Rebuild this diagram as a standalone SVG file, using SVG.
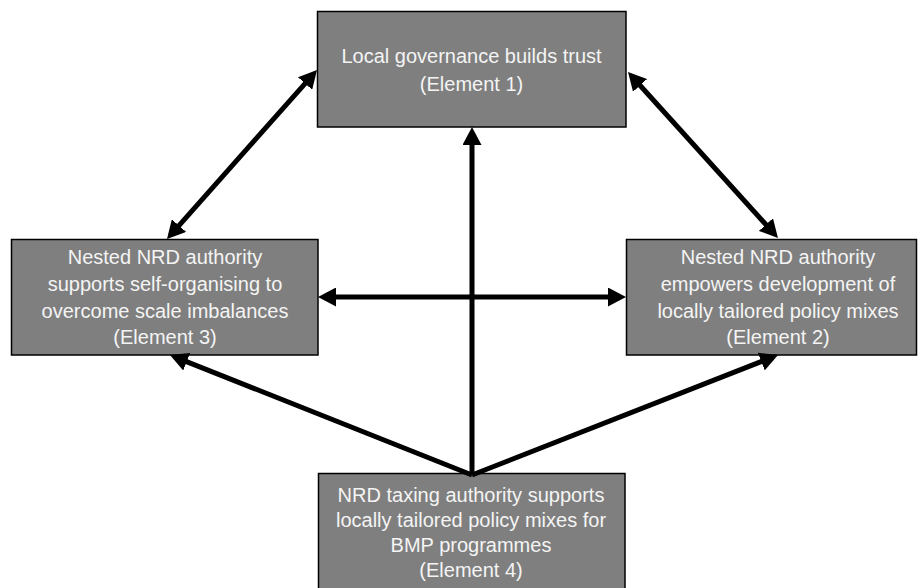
<svg xmlns="http://www.w3.org/2000/svg" width="918" height="588" viewBox="0 0 918 588">
  <defs>
    <style>
      .box { fill: #7f7f7f; stroke: #000; stroke-width: 1.5; }
      .lbl { font-family: "Liberation Sans", Arial, sans-serif; font-size: 20px; fill: #f4f4f4; text-anchor: middle; }
      .conn { stroke: #000; stroke-width: 5; fill: none; }
    </style>
    <marker id="ah" markerUnits="userSpaceOnUse" markerWidth="18" markerHeight="19" refX="7" refY="9.5" orient="auto-start-reverse" viewBox="0 0 18 19">
      <path d="M0,0 L18,9.5 L0,19 z" fill="#000"/>
    </marker>
  </defs>
  <rect width="918" height="588" fill="#fff"/>

  <g id="node-element1">
    <rect class="box" x="317.5" y="11.5" width="308.5" height="115.5"/>
    <text class="lbl" x="471.5" y="63">Local governance builds trust</text>
    <text class="lbl" x="471.5" y="90.5">(Element 1)</text>
  </g>

  <g id="node-element3">
    <rect class="box" x="11.5" y="239.5" width="306.5" height="115.5"/>
    <text class="lbl" x="165" y="263.5">Nested NRD authority</text>
    <text class="lbl" x="165" y="290.5">supports self-organising to</text>
    <text class="lbl" x="165" y="317.5">overcome scale imbalances</text>
    <text class="lbl" x="165" y="344">(Element 3)</text>
  </g>

  <g id="node-element2">
    <rect class="box" x="626.5" y="239.5" width="290" height="115.5"/>
    <text class="lbl" x="778" y="263.5">Nested NRD authority</text>
    <text class="lbl" x="778" y="290.5">empowers development of</text>
    <text class="lbl" x="778" y="317.5">locally tailored policy mixes</text>
    <text class="lbl" x="778" y="344">(Element 2)</text>
  </g>

  <g id="node-element4">
    <rect class="box" x="318.5" y="473.5" width="306.5" height="130"/>
    <text class="lbl" x="471" y="501.5" font-size="20.5">NRD taxing authority supports</text>
    <text class="lbl" x="471" y="526.5" font-size="20.5">locally tailored policy mixes for</text>
    <text class="lbl" x="471" y="551.5" font-size="20.5">BMP programmes</text>
    <text class="lbl" x="471" y="576.5" font-size="20.5">(Element 4)</text>
  </g>

  <g id="connectors">
    <line class="conn" x1="472" y1="475" x2="472" y2="138" marker-end="url(#ah)"/>
    <line class="conn" x1="174.3" y1="230.8" x2="309.7" y2="78.3" marker-start="url(#ah)" marker-end="url(#ah)"/>
    <line class="conn" x1="635.4" y1="80.2" x2="770.6" y2="229.8" marker-start="url(#ah)" marker-end="url(#ah)"/>
    <line class="conn" x1="329" y1="297" x2="615" y2="297" marker-start="url(#ah)" marker-end="url(#ah)"/>
    <line class="conn" x1="472" y1="475" x2="180.2" y2="359.1" marker-end="url(#ah)"/>
    <line class="conn" x1="472" y1="475" x2="767.8" y2="359" marker-end="url(#ah)"/>
  </g>
</svg>
